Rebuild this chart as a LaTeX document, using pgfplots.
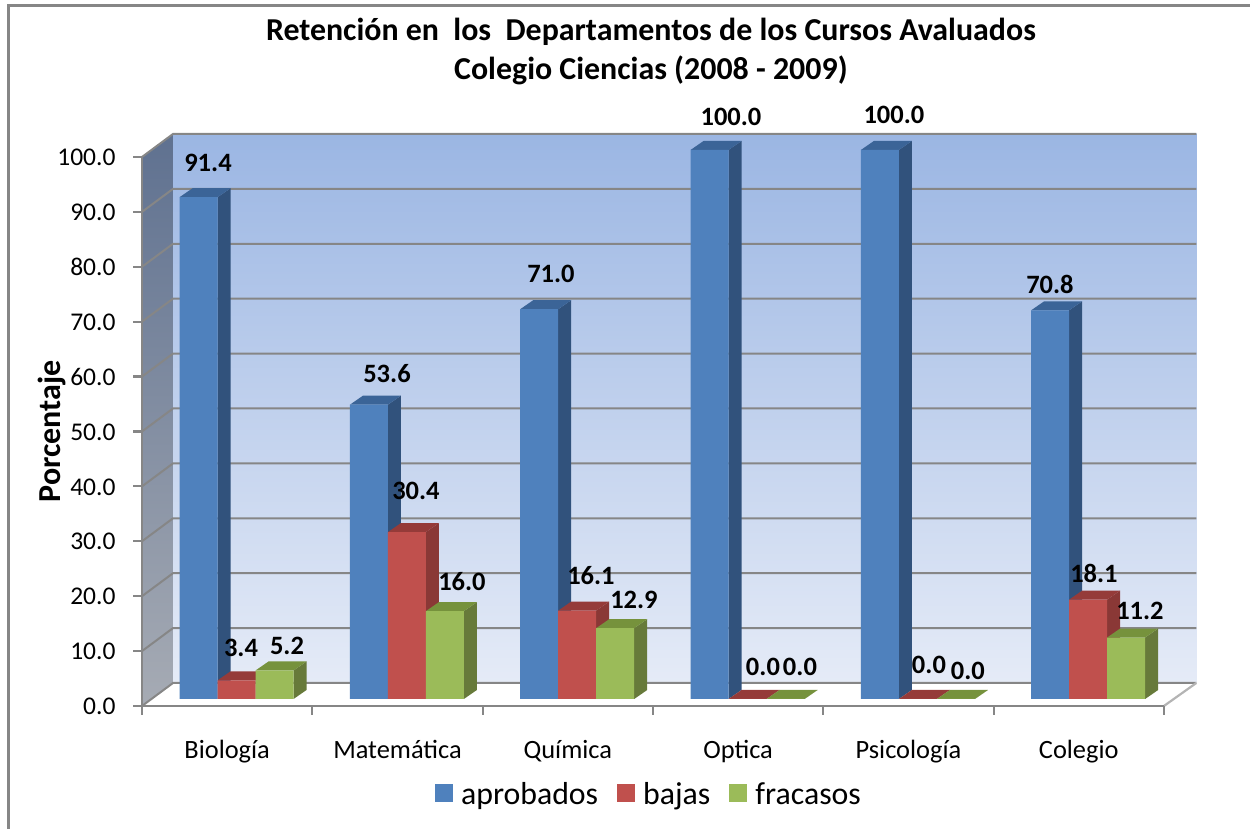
\documentclass[border=0pt]{standalone}
\usepackage{fontspec}
\setmainfont{Carlito}
\usepackage{pgfplots}
\usepackage{pgfplotstable}
\pgfplotsset{compat=1.18}
\definecolor{gridc}{HTML}{868686}
\definecolor{bluew0}{HTML}{9BB6E3}\definecolor{bluew1}{HTML}{E5EBF7}
\definecolor{sidew0}{HTML}{5F7190}\definecolor{sidew1}{HTML}{A6ABB4}
\definecolor{bluef}{HTML}{4F81BD}\definecolor{blues}{HTML}{31527C}\definecolor{bluet}{HTML}{3B6497}
\definecolor{redf}{HTML}{C0504D}\definecolor{reds}{HTML}{8A3836}\definecolor{redt}{HTML}{953B39}
\definecolor{greenf}{HTML}{9BBB59}\definecolor{greens}{HTML}{677A3A}\definecolor{greent}{HTML}{76923C}
\pgfplotstableread{
idx aprobados bajas fracasos
0.5 91.4 3.4 5.2
1.5 53.6 30.4 16.0
2.5 71.0 16.1 12.9
3.5 100.0 0.0 0.0
4.5 100.0 0.0 0.0
5.5 70.8 18.1 11.2
}\datos
\pgfplotstableread{
px py label
208 163 91.4
241 648 3.4
287 646 5.2
387 374 53.6
416 491 30.4
462 582 16.0
551 274 71.0
591 576 16.1
634 600 12.9
731 117 100.0
763 667 0.0
800 667 0.0
894 115 100.0
929 665 0.0
968 671 0.0
1050 284 70.8
1094 573 18.1
1140 611 11.2
}\etiquetas
% depth faces of one bar: {group row}{bar shift in px}{value}{side}{top}
\newcommand\caras[5]{%
  \pgfplotstablegetelem{#1}{idx}\of\datos
  \pgfmathsetmacro\xl{\pgfplotsretval+(#2-19)/170.33}%
  \pgfmathsetmacro\xr{\xl+38/170.33}%
  \pgfmathsetmacro\xo{13/170.33}%
  \pgfmathsetmacro\xrb{\xr+\xo}%
  \pgfmathsetmacro\xlb{\xl+\xo}%
  \pgfmathsetmacro\yb{#3+9/5.49}%
  \pgfmathsetmacro\ybase{9/5.49}%
  \addplot[fill=#4,draw=none,forget plot] coordinates {(\xr,0) (\xrb,\ybase) (\xrb,\yb) (\xr,#3)} -- cycle;
  \addplot[fill=#5,draw=none,forget plot] coordinates {(\xl,#3) (\xlb,\yb) (\xrb,\yb) (\xr,#3)} -- cycle;
}
\newcommand\serie[5]{%
  \pgfplotsforeachungrouped \i in {0,...,5}{%
    \pgfplotstablegetelem{\i}{#1}\of\datos
    \edef\val{\pgfplotsretval}%
    \caras{\i}{#2}{\val}{#4}{#5}%
  }%
  \addplot[ybar,bar width=38pt,bar shift=#2pt,fill=#3,draw=none,
    legend image code/.code={\fill[#3] (0pt,-8pt) rectangle (18pt,10pt);\path (24pt,0pt);}]
    table[x=idx,y=#1]{\datos};
}
\begin{document}
\begin{tikzpicture}[x=1pt,y=1pt]
\path[use as bounding box] (0,0) rectangle (1250,829);
\draw[gridc,line width=2.2pt] (8.5,0) -- (8.5,823.5) -- (1250,823.5);
% front plane: walls, floor, ticks, labels, title
\begin{axis}[
  at={(142pt,123pt)},anchor=south west,scale only axis,
  width=1022pt,height=549pt,
  xmin=0,xmax=6,ymin=0,ymax=100,clip=false,axis on top,
  axis x line*=bottom,axis y line*=left,
  axis line style={gridc,line width=2.4pt},
  tick style={gridc,line width=2.2pt},
  major tick length=9pt,tick align=outside,
  xtick={0,...,6},xticklabels={,,,,,,},
  extra x ticks={0.5,1.5,2.5,3.5,4.5,5.5},
  extra x tick labels={Biología,Matemática,Química,Optica,Psicología,Colegio},
  extra x tick style={major tick length=0pt,tick style={draw=none},
    xticklabel style={font=\fontsize{26.4}{29}\selectfont,text height=17pt,text depth=5pt,yshift=-32pt}},
  ytick={0,10,...,100},
  yticklabel style={xshift=-14pt,yshift=-0.5pt,font=\fontsize{25.5}{28}\selectfont,/pgf/number format/.cd,fixed,fixed zerofill,precision=1,assume math mode=true},
  ylabel={\textbf{Porcentaje}},
  ylabel style={font=\fontsize{32}{34}\selectfont,at={(axis description cs:-0.088,0.5)},anchor=center},
  title={Retención en\ \ los\ \ Departamentos de los Cursos Avaluados\\Colegio Ciencias (2008 - 2009)},
  title style={font=\fontsize{31.9}{39}\selectfont\bfseries,align=center,at={(axis description cs:0.498,1)},anchor=south,yshift=63pt},
]
\addplot[draw=none,top color=bluew0,bottom color=bluew1,forget plot] coordinates {(0.182,4.19) (6.19,4.19) (6.19,104.19) (0.182,104.19)} -- cycle;
\addplot[draw=none,top color=sidew0,bottom color=sidew1,forget plot] coordinates {(0,0) (0.182,4.19) (0.182,104.19) (0,100)} -- cycle;
\pgfplotsforeachungrouped \v in {0,10,...,100}{%
  \pgfmathsetmacro\vb{\v+4.19}%
  \addplot[gridc,line width=2pt,forget plot] coordinates {(0,\v) (0.182,\vb) (6.19,\vb)};
}
\addplot[color=lightgray!80!gridc,line width=2.2pt,forget plot] coordinates {(6,0) (6.19,4.19)};
\end{axis}
% bar plane: the bars, their labels, the legend
\begin{axis}[
  at={(151.4pt,130pt)},anchor=south west,scale only axis,
  width=1022pt,height=549pt,
  xmin=0,xmax=6,ymin=0,ymax=100,clip=false,hide axis,
  legend style={at={(0.4869,-0.173)},anchor=center,draw=none,fill=none,
    legend columns=3,font=\fontsize{31.8}{34}\selectfont,
    /tikz/every even column/.style={column sep=17pt},
    /tikz/every odd column/.style={column sep=0pt}},
]
\serie{aprobados}{-38}{bluef}{blues}{bluet}
\addlegendentry{aprobados}
\serie{bajas}{0}{redf}{reds}{redt}
\addlegendentry{bajas}
\serie{fracasos}{38}{greenf}{greens}{greent}
\addlegendentry{fracasos}
\addplot[draw=none,mark=none,forget plot,nodes near coords,point meta=explicit symbolic,
  every node near coord/.style={anchor=center,inner sep=0pt,font=\fontsize{26.5}{28}\selectfont\bfseries}]
  table[x expr={(\thisrow{px}-151.4)/170.33},y expr={(699-\thisrow{py})/5.49},meta=label]{\etiquetas};
\end{axis}
\end{tikzpicture}
\end{document}
